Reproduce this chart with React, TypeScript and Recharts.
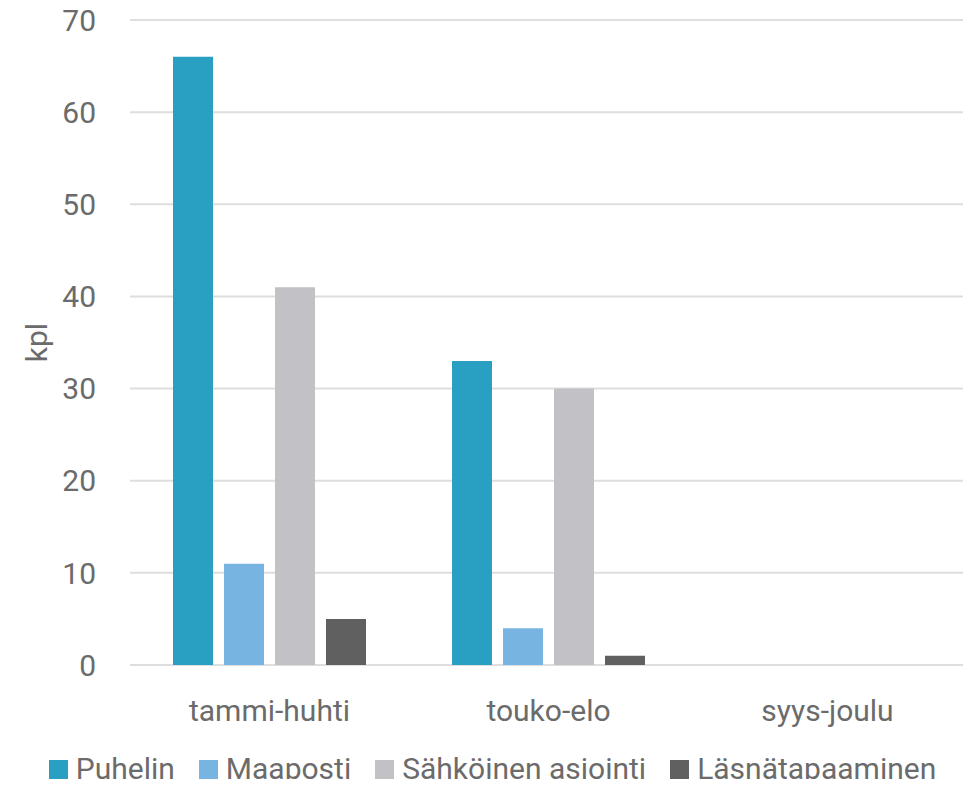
import React from "react";
import {
  BarChart,
  Bar,
  XAxis,
  YAxis,
  CartesianGrid,
  Legend,
} from "recharts";

const periods = ["tammi-huhti", "touko-elo", "syys-joulu"];
const puhelin = [66, 33, null];
const maaposti = [11, 4, null];
const sahkoinen = [41, 30, null];
const lasna = [5, 1, null];
const yTicks = [0, 10, 20, 30, 40, 50, 60, 70];

const series = [
  { key: "Puhelin", color: "#29a0c1" },
  { key: "Maaposti", color: "#78b4e2" },
  { key: "Sähköinen asiointi", color: "#c2c2c6" },
  { key: "Läsnätapaaminen", color: "#606060" },
];

const data = periods.map((p, i) => ({
  period: p,
  Puhelin: puhelin[i],
  Maaposti: maaposti[i],
  "Sähköinen asiointi": sahkoinen[i],
  Läsnätapaaminen: lasna[i],
}));

const textColor = "#6b6b6b";
const font = "Roboto, sans-serif";

const LegendContent = () => (
  <div
    style={{
      display: "flex",
      justifyContent: "center",
      alignItems: "baseline",
      fontFamily: font,
      fontSize: 30,
      lineHeight: 1,
      color: textColor,
      paddingLeft: 42,
      paddingTop: 14,
    }}
  >
    {series.map((s) => (
      <div
        key={s.key}
        style={{ display: "flex", alignItems: "baseline", marginRight: 24 }}
      >
        <span
          style={{
            width: 19,
            height: 19,
            background: s.color,
            display: "inline-block",
            marginRight: 8,
          }}
        />
        <span>{s.key}</span>
      </div>
    ))}
  </div>
);

export default function App() {
  return (
    <div style={{ margin: -8, background: "#fff" }}>
      <BarChart
        width={971}
        height={787}
        data={data}
        margin={{ top: 20, right: 4, left: 0, bottom: 0 }}
        barSize={40}
        barGap={11}
      >
        <CartesianGrid vertical={false} stroke="#dedede" strokeWidth={2} />
        <XAxis
          dataKey="period"
          axisLine={false}
          tickLine={false}
          height={75}
          tickMargin={29}
          tick={{ fill: textColor, fontSize: 30, fontFamily: font }}
        />
        <YAxis
          domain={[0, 70]}
          ticks={yTicks}
          width={130}
          axisLine={false}
          tickLine={false}
          tickMargin={28}
          tick={{ fill: textColor, fontSize: 30, fontFamily: font }}
          label={{
            value: "kpl",
            angle: -90,
            position: "insideLeft",
            offset: 36,
            style: { fill: textColor, fontSize: 30, fontFamily: font, textAnchor: "middle" },
          }}
        />
        <Legend verticalAlign="bottom" height={47} content={<LegendContent />} />
        {series.map((s) => (
          <Bar
            key={s.key}
            dataKey={s.key}
            fill={s.color}
            isAnimationActive={false}
          />
        ))}
      </BarChart>
    </div>
  );
}
